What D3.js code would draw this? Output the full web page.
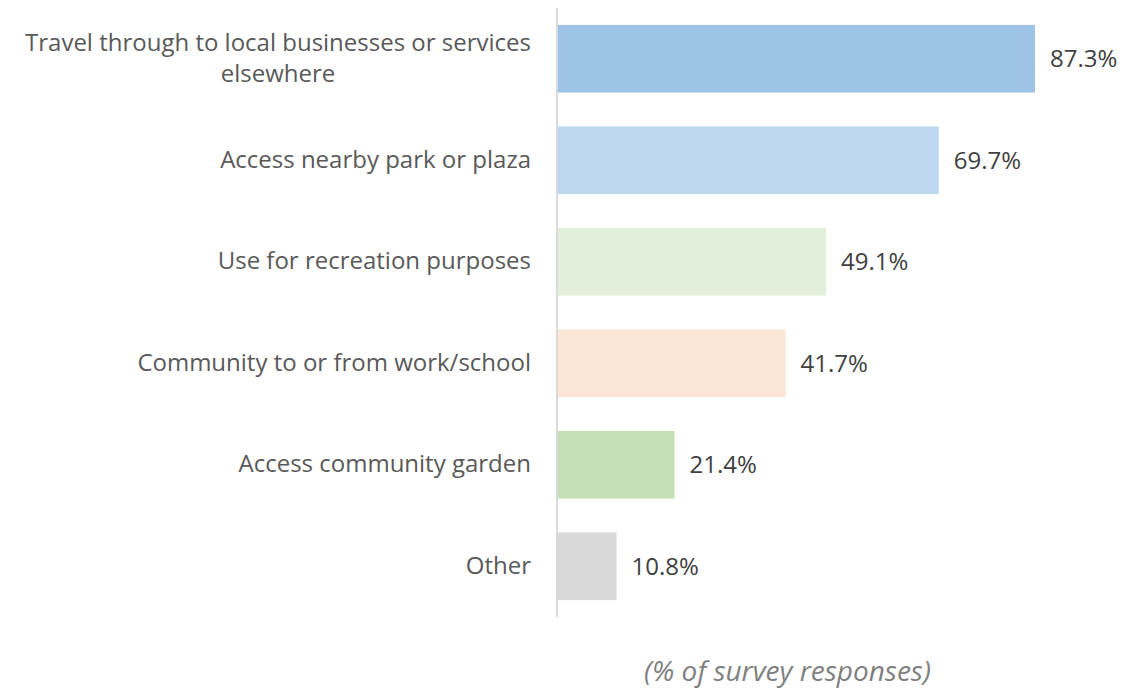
<!DOCTYPE html>
<html>
<head>
<meta charset="utf-8">
<script src="https://cdn.jsdelivr.net/npm/d3@7"></script>
<style>
  html, body { margin: 0; padding: 0; background: #ffffff; }
  svg { display: block; }
  text { font-family: "Open Sans", "Noto Sans", sans-serif; }
</style>
</head>
<body>
<svg id="chart" width="1147" height="689"></svg>
<script>
// Reasons for using the route, share of survey responses
const categories = [
  "Travel through to local businesses or services elsewhere",
  "Access nearby park or plaza",
  "Use for recreation purposes",
  "Community to or from work/school",
  "Access community garden",
  "Other"
];
const values = [87.3, 69.7, 49.1, 41.7, 21.4, 10.8];
const barColors = ["#9dc3e6", "#bdd7ee", "#e2efda", "#fbe5d6", "#c5e0b4", "#d9d9d9"];
const axisTitle = "(% of survey responses)";

const svg = d3.select("#chart");
const plotLeft = 557.5, plotRight = 1104.5, plotTop = 8, plotBottom = 617;

const x = d3.scaleLinear().domain([0, 100]).range([plotLeft, plotRight]);
const y = d3.scaleBand().domain(categories).range([plotTop, plotBottom])
  .paddingInner(1 / 3).paddingOuter(1 / 6);

const rows = categories.map((c, i) => ({ cat: c, val: values[i], color: barColors[i] }));

// bars
svg.append("g").selectAll("rect").data(rows).join("rect")
  .attr("x", x(0))
  .attr("y", d => y(d.cat))
  .attr("width", d => x(d.val) - x(0))
  .attr("height", y.bandwidth())
  .attr("fill", d => d.color);

// vertical category axis line
svg.append("line")
  .attr("x1", x(0) - 0.5).attr("x2", x(0) - 0.5)
  .attr("y1", plotTop).attr("y2", plotBottom)
  .attr("stroke", "#d9d9d9").attr("stroke-width", 2);

// value labels
svg.append("g").selectAll("text").data(rows).join("text")
  .attr("x", d => x(d.val) + 15)
  .attr("y", d => y(d.cat) + y.bandwidth() / 2)
  .attr("dy", "0.35em")
  .attr("fill", "#404040")
  .style("font-size", "24px")
  .text(d => d.val.toFixed(1) + "%");

// category labels, wrapped and centred as a block right-aligned to the axis
const labelRight = 531, maxWidth = 520, lineHeight = 31;
const labels = svg.append("g").selectAll("text").data(rows).join("text")
  .attr("fill", "#595959")
  .style("font-size", "24px")
  .attr("text-anchor", "middle");

labels.each(function (d) {
  const t = d3.select(this);
  const words = d.cat.split(" ");
  const lines = [];
  let cur = [];
  const probe = t.append("tspan");
  words.forEach(w => {
    const trial = cur.concat(w).join(" ");
    probe.text(trial);
    if (probe.node().getComputedTextLength() > maxWidth && cur.length) {
      lines.push(cur.join(" "));
      cur = [w];
    } else {
      cur.push(w);
    }
  });
  lines.push(cur.join(" "));
  const widest = d3.max(lines, l => { probe.text(l); return probe.node().getComputedTextLength(); });
  probe.remove();
  const cx = labelRight - widest / 2;
  const cy = y(d.cat) + y.bandwidth() / 2;
  const y0 = cy - 1 - (lines.length - 1) * lineHeight / 2;
  lines.forEach((l, i) => {
    t.append("tspan").attr("x", cx).attr("y", y0 + i * lineHeight)
      .attr("dy", "0.35em").text(l);
  });
});

// axis title
svg.append("text")
  .attr("x", 787.5).attr("y", 671)
  .attr("dy", "0.35em")
  .attr("text-anchor", "middle")
  .attr("fill", "#7f7f7f")
  .style("font-size", "28px")
  .style("font-style", "italic")
  .text(axisTitle);
</script>
</body>
</html>
